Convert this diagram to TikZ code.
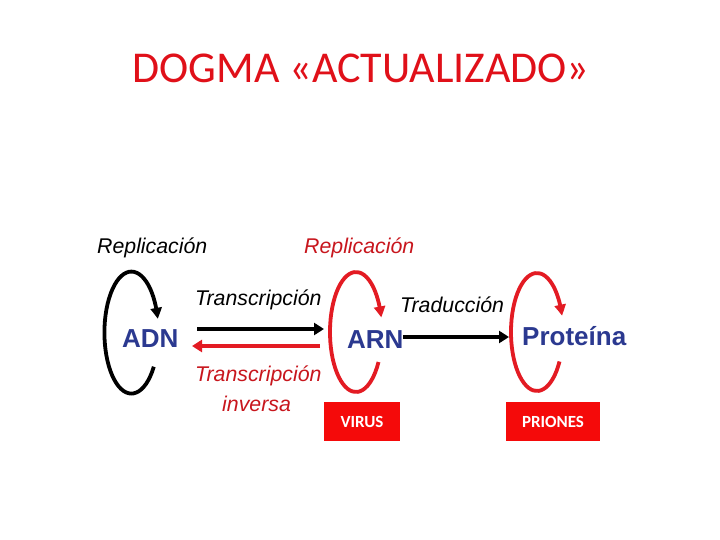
\documentclass[tikz,border=0pt]{standalone}
\usepackage{fontspec}
\setmainfont{Liberation Sans}
\newfontfamily\carlitofont{Carlito}
\usetikzlibrary{arrows.meta,bending}
\definecolor{titlered}{HTML}{E01019}
\definecolor{arcred}{HTML}{E31B23}
\definecolor{labred}{HTML}{C8161D}
\definecolor{boxred}{HTML}{F50A0A}
\definecolor{molblue}{HTML}{2B3990}
\tikzset{
  lab/.style={anchor=base west, inner sep=0pt, font=\fontsize{21.3}{21.3}\selectfont\itshape},
  mol/.style={anchor=base west, inner sep=0pt, text=molblue, font=\fontsize{26}{26}\selectfont\bfseries},
  loop/.style={line width=3.8pt, -{Triangle[length=11pt,width=11pt,bend]}},
  conn/.style={line width=4pt, -{Triangle[length=10pt,width=12pt]}},
  tag/.style={fill=boxred, text=white, inner sep=0pt, font=\carlitofont\fontsize{17}{17}\selectfont\bfseries}
}
\begin{document}
\begin{tikzpicture}[x=1pt,y=-1pt]
\useasboundingbox (0,0) rectangle (720,540);
\fill[white] (0,0) rectangle (720,540);
% title
\node[anchor=base, inner sep=0pt, text=titlered, font=\carlitofont\fontsize{44}{44}\selectfont] (title) at (361,83) {DOGMA «ACTUALIZADO»};
% molecules
\node[mol] (adn) at (122,347) {ADN};
\node[mol] (arn) at (347,348) {ARN};
\node[mol] (prot) at (522,345) {Proteína};
% labels
\node[lab] (rep1) at (97,253) {Replicación};
\node[lab, text=labred] (rep2) at (304,253) {Replicación};
\node[lab] (trans) at (195,305) {Transcripción};
\node[lab, text=labred] (transinv) at (195,381) {Transcripción};
\node[lab, text=labred] (inv) at (222,411) {inversa};
\node[lab] (trad) at (400,312) {Traducción};
% boxes
\node[tag, minimum width=76pt, minimum height=39pt] (virus) at (362,421.5) {VIRUS};
\node[tag, minimum width=94pt, minimum height=39pt] (prion) at (553,421.5) {PRIONES};
% loops
\coordinate (l1) at (153.8,366.7);
\coordinate (l2) at (378.5,362);
\coordinate (l3) at (559.5,361.5);
\draw[loop, black] (l1) arc[start angle=34, end angle=347, x radius=27, y radius=61];
\draw[loop, arcred] (l2) arc[start angle=30, end angle=346, x radius=26, y radius=60];
\draw[loop, arcred] (l3) arc[start angle=30, end angle=344, x radius=26, y radius=59];
% connectors
\coordinate (a1) at (197,329);
\coordinate (a2) at (324,329);
\coordinate (b1) at (320,346);
\coordinate (b2) at (192,346);
\coordinate (c1) at (403,337);
\coordinate (c2) at (509,337);
\draw[conn, black] (a1) -- (a2);
\draw[conn, arcred] (b1) -- (b2);
\draw[conn, black] (c1) -- (c2);
\end{tikzpicture}
\end{document}
